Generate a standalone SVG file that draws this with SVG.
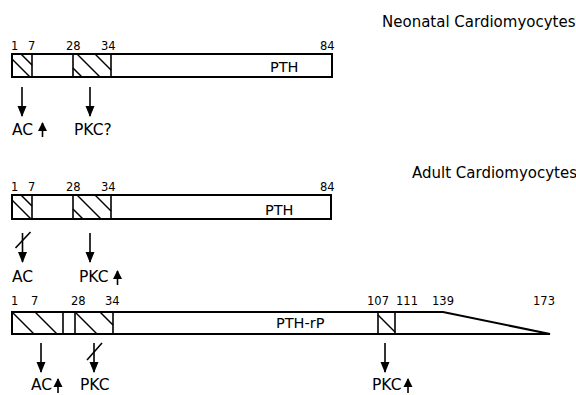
<svg xmlns="http://www.w3.org/2000/svg" width="576" height="395" viewBox="0 0 576 395">
<style>
text{font-family:"DejaVu Sans","Liberation Sans",sans-serif;fill:#000}
.title{font-size:15px}
.num{font-size:11.5px}
.lab{font-size:15.5px}
.ptl{font-size:14.5px}
.bar{fill:#fff;stroke:#000;stroke-width:2}
.div{stroke:#000;stroke-width:1.6}
.hatch{stroke:#000;stroke-width:1.5}
.arr{stroke:#000;stroke-width:1.6;fill:none}
</style>
<defs>
<marker id="ah" markerUnits="userSpaceOnUse" markerWidth="11" markerHeight="12" refX="10" refY="4.5" orient="auto" viewBox="0 0 11 9">
<path d="M0,0 L11,4.5 L0,9 Z" fill="#000"/>
</marker>
<marker id="uh" markerUnits="userSpaceOnUse" markerWidth="9" markerHeight="10" refX="8" refY="4.5" orient="auto" viewBox="0 0 9 9">
<path d="M0,0 L9,4.5 L0,9 Z" fill="#000"/>
</marker>
</defs>

<text class="title" x="382" y="27">Neonatal Cardiomyocytes</text>
<text class="title" x="412" y="178">Adult Cardiomyocytes</text>

<g id="pth-neonatal">
<rect class="bar" x="12" y="54" width="320" height="23"/>
<line class="div" x1="32" y1="54" x2="32" y2="77"/>
<line class="div" x1="73" y1="54" x2="73" y2="77"/>
<line class="div" x1="111" y1="54" x2="111" y2="77"/>
<line class="hatch" x1="12" y1="59" x2="30" y2="77"/>
<line class="hatch" x1="21" y1="54" x2="32" y2="65"/>
<line class="hatch" x1="73" y1="68" x2="82" y2="77"/>
<line class="hatch" x1="77" y1="54" x2="100" y2="77"/>
<line class="hatch" x1="95" y1="54" x2="111" y2="70"/>
<text class="num" x="11" y="50">1</text>
<text class="num" x="28" y="50">7</text>
<text class="num" x="66" y="50">28</text>
<text class="num" x="101" y="50">34</text>
<text class="num" x="320" y="50">84</text>
<text class="ptl" x="270" y="72">PTH</text>
</g>

<g id="pth-adult">
<rect class="bar" x="12" y="195" width="319" height="24"/>
<line class="div" x1="32" y1="195" x2="32" y2="219"/>
<line class="div" x1="73" y1="195" x2="73" y2="219"/>
<line class="div" x1="111" y1="195" x2="111" y2="219"/>
<line class="hatch" x1="12" y1="200" x2="31" y2="219"/>
<line class="hatch" x1="21" y1="195" x2="32" y2="206"/>
<line class="hatch" x1="73" y1="209" x2="83" y2="219"/>
<line class="hatch" x1="77" y1="195" x2="101" y2="219"/>
<line class="hatch" x1="95" y1="195" x2="111" y2="211"/>
<text class="num" x="11" y="191">1</text>
<text class="num" x="28" y="191">7</text>
<text class="num" x="66" y="191">28</text>
<text class="num" x="101" y="191">34</text>
<text class="num" x="320" y="191">84</text>
<text class="ptl" x="265" y="215">PTH</text>
</g>

<g id="pthrp-adult">
<polygon class="bar" points="12,312 443,312 550,334 12,334"/>
<line class="div" x1="63" y1="312" x2="63" y2="334"/>
<line class="div" x1="75" y1="312" x2="75" y2="334"/>
<line class="div" x1="113" y1="312" x2="113" y2="334"/>
<line class="div" x1="378" y1="312" x2="378" y2="334"/>
<line class="div" x1="395" y1="312" x2="395" y2="334"/>
<line class="hatch" x1="12" y1="312" x2="34" y2="334"/>
<line class="hatch" x1="35" y1="312" x2="57" y2="334"/>
<line class="hatch" x1="75" y1="312" x2="97" y2="334"/>
<line class="hatch" x1="100" y1="312" x2="113" y2="325"/>
<line class="hatch" x1="378" y1="315" x2="395" y2="332"/>
<text class="num" x="11" y="305">1</text>
<text class="num" x="31" y="305">7</text>
<text class="num" x="71" y="305">28</text>
<text class="num" x="105" y="305">34</text>
<text class="num" x="367" y="305">107</text>
<text class="num" x="396" y="305">111</text>
<text class="num" x="432" y="305">139</text>
<text class="num" x="533" y="305">173</text>
<text class="ptl" x="276" y="328">PTH-rP</text>
</g>

<g id="connectors">
<line class="arr" x1="22" y1="87" x2="22" y2="116" marker-end="url(#ah)"/>
<line class="arr" x1="90" y1="87" x2="90" y2="116" marker-end="url(#ah)"/>
<line class="arr" x1="22.5" y1="233" x2="22.5" y2="262" marker-end="url(#ah)"/>
<line class="arr" x1="15.5" y1="248" x2="30.5" y2="232"/>
<line class="arr" x1="90" y1="233" x2="90" y2="262" marker-end="url(#ah)"/>
<line class="arr" x1="41" y1="343" x2="41" y2="372" marker-end="url(#ah)"/>
<line class="arr" x1="94" y1="343" x2="94" y2="372" marker-end="url(#ah)"/>
<line class="arr" x1="87" y1="360" x2="102" y2="343"/>
<line class="arr" x1="385" y1="343" x2="385" y2="372" marker-end="url(#ah)"/>
</g>

<g id="labels">
<text class="lab" x="12" y="135">AC</text>
<line class="arr" x1="42.5" y1="137" x2="42.5" y2="123" marker-end="url(#uh)"/>
<text class="lab" x="74" y="135">PKC?</text>
<text class="lab" x="12" y="282">AC</text>
<text class="lab" x="79" y="282">PKC</text>
<line class="arr" x1="117.5" y1="285" x2="117.5" y2="271" marker-end="url(#uh)"/>
<text class="lab" x="31" y="390">AC</text>
<line class="arr" x1="58" y1="393" x2="58" y2="379" marker-end="url(#uh)"/>
<text class="lab" x="80" y="390">PKC</text>
<text class="lab" x="372" y="390">PKC</text>
<line class="arr" x1="408" y1="393" x2="408" y2="379" marker-end="url(#uh)"/>
</g>
</svg>
